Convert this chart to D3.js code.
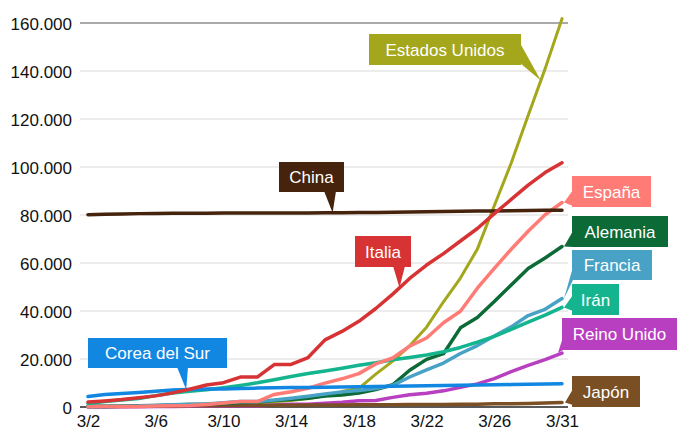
<!DOCTYPE html>
<html>
<head>
<meta charset="utf-8">
<script src="https://cdn.jsdelivr.net/npm/d3@7"></script>
<style>
  body { margin: 0; background: #fff; }
  svg { display: block; font-family: "Liberation Sans", Arial, Helvetica, sans-serif; }
</style>
</head>
<body>
<div id="chart"></div>
<script>
const w = 677
const h = 430

// fechas (3/2 ... 3/30, la última etiqueta dice 3/31)
const dates = ["3/2","3/3","3/4","3/5","3/6","3/7","3/8","3/9","3/10","3/11","3/12","3/13","3/14","3/15","3/16",
	"3/17","3/18","3/19","3/20","3/21","3/22","3/23","3/24","3/25","3/26","3/27","3/28","3/29","3/31"]
const tickDates = ["3/2","3/6","3/10","3/14","3/18","3/22","3/26","3/31"]
const yTicks = [0, 20000, 40000, 60000, 80000, 100000, 120000, 140000, 160000]

const china = [80151,80271,80422,80573,80652,80699,80735,80757,80785,80793,80801,80826,80849,80880,80929,
	80957,81006,81065,81117,81210,81312,81434,81553,81624,81691,81773,81836,81929,81996]
const italia = [2036,2502,3089,3858,4636,5883,7375,9172,10149,12462,12462,17660,17750,20603,27980,
	31506,35713,41035,47021,53578,59138,63927,69176,74386,80589,86498,92472,97689,101739]
const eeuu = [53,73,100,160,221,417,537,605,959,1281,1663,2179,2726,3499,4632,
	6421,7786,13680,19101,25493,33276,43847,53740,65778,83836,101657,121478,140886,161807]
const espana = [120,165,222,259,400,500,673,1073,1695,2277,2277,5232,6391,7798,9942,
	11748,13910,17963,20410,25374,28768,35136,39885,49515,57786,65719,73235,80110,85195]
const alemania = [159,196,262,482,670,799,1040,1176,1457,1908,2078,2745,3156,3675,4585,
	5000,5795,7272,9257,15320,19848,22213,32986,37323,43938,50871,57695,62095,66885]
const francia = [191,204,288,380,656,959,1136,1219,1794,2293,2293,2876,3661,4469,5380,
	6300,6900,7700,9000,12500,15500,18300,22300,25600,29551,33402,38105,40708,45170]
const iran = [1501,2336,2922,3513,4747,5823,6566,7161,8042,9000,10075,11364,12729,13938,14991,
	16169,17361,18407,19644,20610,21638,23049,24811,27017,29406,32332,35408,38309,41495]
const reinoUnido = [40,51,86,116,164,207,274,322,384,459,459,802,1144,1145,1551,
	1960,2642,2716,4014,5067,5745,6726,8164,9640,11812,14745,17312,19780,22453]
const corea = [4335,5186,5621,6088,6593,7041,7314,7478,7513,7755,7869,7979,8086,8162,8236,
	8320,8413,8565,8652,8799,8897,8961,9037,9137,9241,9332,9478,9583,9661]
const japon = [274,293,331,360,420,461,502,511,581,639,639,701,773,839,825,
	878,889,924,963,1007,1086,1086,1128,1193,1307,1387,1468,1693,1866]

const series = [
	{name: "Estados Unidos", values: eeuu, color: "#a4a71b", width: 3},
	{name: "Reino Unido", values: reinoUnido, color: "#b93fc1", width: 3.5},
	{name: "Japón", values: japon, color: "#7b4f24", width: 3.5},
	{name: "Alemania", values: alemania, color: "#0c6a37", width: 3.5},
	{name: "Francia", values: francia, color: "#48a2c6", width: 3.5},
	{name: "Irán", values: iran, color: "#14b48e", width: 3.5},
	{name: "España", values: espana, color: "#ff7b76", width: 3.5},
	{name: "Corea del Sur", values: corea, color: "#1287e2", width: 3.5},
	{name: "China", values: china, color: "#45230c", width: 3.5},
	{name: "Italia", values: italia, color: "#d73334", width: 3.5}
]

// cajas de las etiquetas: posición de la caja, lado del pico, base del pico y punto (índice) al que apunta
const callouts = {
	"Estados Unidos": {x: 369, y: 34, w: 152, h: 31, side: "right", base: [9, 29], at: 26.75},
	"China": {x: 279, y: 162, w: 65, h: 30, side: "bottom", base: [45, 57], at: 14.45},
	"Italia": {x: 355, y: 236, w: 56, h: 31, side: "bottom", base: [38, 50], at: 18.4},
	"Corea del Sur": {x: 88, y: 338, w: 139, h: 30, side: "bottom", base: [89, 100], at: 5.8},
	"España": {x: 572, y: 176, w: 79, h: 31, side: "left", base: [14, 30], at: 28, dx: 2},
	"Alemania": {x: 572, y: 216, w: 96, h: 31, side: "left", base: [15, 31], at: 28, dx: 2},
	"Francia": {x: 572, y: 250, w: 80, h: 30, side: "left", base: [17, 30], at: 28, dx: 2},
	"Irán": {x: 572, y: 284, w: 47, h: 31, side: "left", base: [11, 27], at: 28, dx: 2},
	"Reino Unido": {x: 562, y: 318, w: 115, h: 32, side: "left", base: [19, 32], at: 28, dx: -4},
	"Japón": {x: 572, y: 376, w: 68, h: 31, side: "left", base: [13, 29], at: 28, dx: 3}
}

const svg = d3.select("#chart")
	.append("svg")
	.attr("width", w)
	.attr("height", h)

const xScale = d3.scalePoint()
	.domain(dates)
	.range([88, 562])

const yScale = d3.scaleLinear()
	.domain([0, 160000])
	.range([407, 23])

const fmt = v => d3.format(",")(v).replace(/,/g, ".")

// líneas de cuadrícula
svg.append("g")
	.selectAll("line")
	.data(yTicks)
	.enter()
	.append("line")
	.attr("x1", 80)
	.attr("x2", 568)
	.attr("y1", d => yScale(d))
	.attr("y2", d => yScale(d))
	.attr("stroke", d => d == 160000 ? "#555" : (d == 0 ? "#222" : "#d9d9d9"))
	.attr("stroke-width", d => d == 0 ? 1.3 : 1.2)

let yAxis = d3.axisLeft(yScale).tickValues(yTicks).tickFormat(fmt).tickSize(0).tickPadding(0)
svg.append("g")
	.attr("transform", "translate(72, 0)")
	.call(yAxis)
	.call(g => g.select(".domain").remove())
	.selectAll("text")
	.attr("font-size", 17)
	.attr("font-family", "Liberation Sans, Arial, sans-serif")
	.attr("fill", "#111")
	.attr("dy", "0.36em")

let xAxis = d3.axisBottom(xScale).tickValues(tickDates).tickSize(0).tickPadding(0)
svg.append("g")
	.attr("transform", "translate(0, 414)")
	.call(xAxis)
	.call(g => g.select(".domain").remove())
	.selectAll("text")
	.attr("font-size", 17)
	.attr("font-family", "Liberation Sans, Arial, sans-serif")
	.attr("fill", "#111")
	.attr("dy", "0.75em")

const line = d3.line()
	.x((d, i) => xScale(dates[i]))
	.y(d => yScale(d))

svg.append("g")
	.selectAll("path")
	.data(series)
	.enter()
	.append("path")
	.attr("d", d => line(d.values))
	.attr("fill", "none")
	.attr("stroke", d => d.color)
	.attr("stroke-width", d => d.width)
	.attr("stroke-linecap", "round")
	.attr("stroke-linejoin", "round")

// punto de la serie en un índice (puede ser fraccionario)
let pointAt = function(values, t) {
	let i0 = Math.floor(t), i1 = Math.min(i0 + 1, values.length - 1)
	let f = t - i0
	let x = xScale(dates[i0]) + f * (xScale(dates[i1]) - xScale(dates[i0]))
	let y = yScale(values[i0]) + f * (yScale(values[i1]) - yScale(values[i0]))
	return [x, y]
}

series.forEach(s => {
	let c = callouts[s.name]
	if (!c) return
	let tip = pointAt(s.values, c.at)
	tip[0] += (c.dx || 0)
	let b
	if (c.side == "bottom") b = [[c.x + c.base[0], c.y + c.h - 1], [c.x + c.base[1], c.y + c.h - 1]]
	else if (c.side == "left") b = [[c.x + 1, c.y + c.base[0]], [c.x + 1, c.y + c.base[1]]]
	else b = [[c.x + c.w - 1, c.y + c.base[0]], [c.x + c.w - 1, c.y + c.base[1]]]
	let g = svg.append("g")
	g.append("path")
		.attr("d", "M" + b[0] + "L" + tip + "L" + b[1] + "Z")
		.attr("fill", s.color)
	g.append("rect")
		.attr("x", c.x)
		.attr("y", c.y)
		.attr("width", c.w)
		.attr("height", c.h)
		.attr("fill", s.color)
	g.append("text")
		.attr("x", c.x + c.w / 2)
		.attr("y", c.y + c.h / 2)
		.attr("dy", "0.36em")
		.attr("text-anchor", "middle")
		.attr("font-size", 17)
		.attr("fill", "#fff")
		.text(s.name)
})
</script>
</body>
</html>
